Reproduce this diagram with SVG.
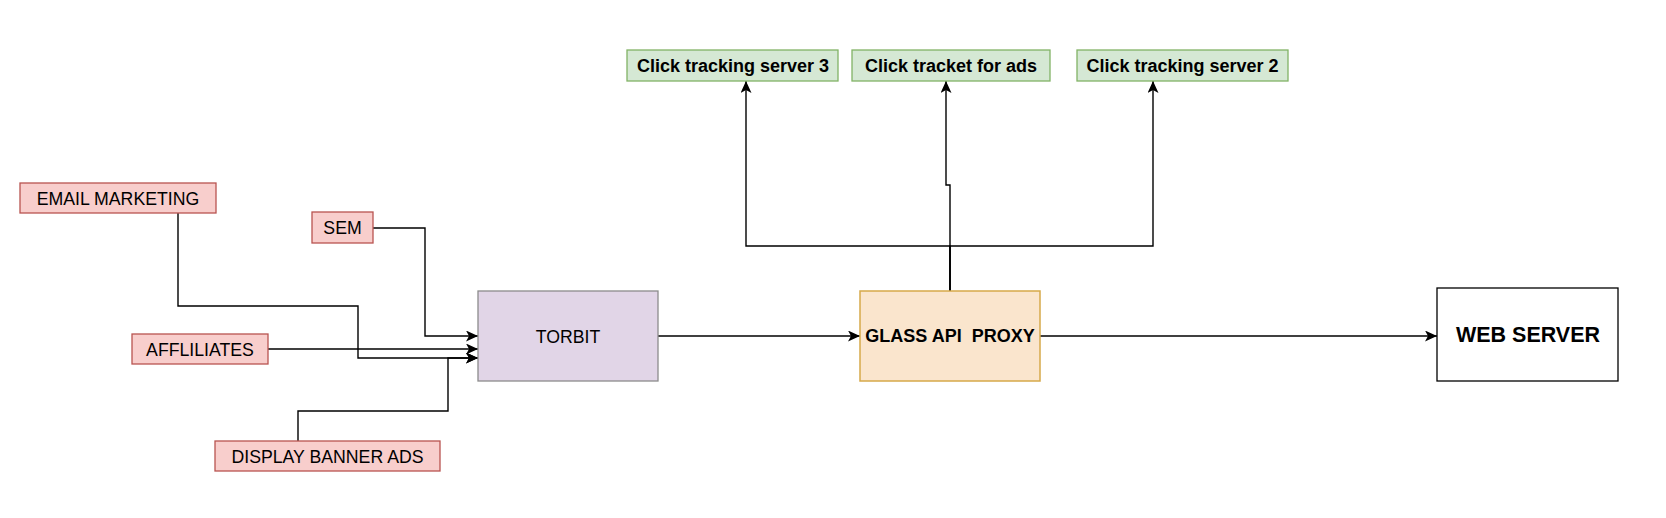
<svg xmlns="http://www.w3.org/2000/svg" width="1666" height="518" viewBox="0 0 1666 518">
<defs>
<marker id="arr" markerUnits="userSpaceOnUse" markerWidth="14" markerHeight="12" refX="12" refY="5.5" orient="auto">
<path d="M0,0 L12,5.5 L0,11 L3,5.5 Z" fill="#000"/>
</marker>
<style>
.red{fill:#f8cecc;stroke:#b85450;stroke-width:1.3}
.green{fill:#d5e8d4;stroke:#82b366;stroke-width:1.3}
.purple{fill:#e1d5e7;stroke:#8c8c8c;stroke-width:1.3}
.orange{fill:#fae5cd;stroke:#d6a94a;stroke-width:1.5}
.white{fill:#fff;stroke:#000;stroke-width:1.3}
.t{font-family:"Liberation Sans",Arial,sans-serif;font-size:17.7px;fill:#000;text-anchor:middle}
.b{font-family:"Liberation Sans",Arial,sans-serif;font-size:18px;font-weight:bold;fill:#000;text-anchor:middle}
.bb{font-family:"Liberation Sans",Arial,sans-serif;font-size:21.5px;font-weight:bold;fill:#000;text-anchor:middle}
.c{fill:none;stroke:#000;stroke-width:1.4;marker-end:url(#arr)}
</style>
</defs>
<rect width="1666" height="518" fill="#fff"/>
<g id="connectors">
<path class="c" d="M178,213 V306 H358 V358 H478"/>
<path class="c" d="M373,228 H425 V336 H478"/>
<path class="c" d="M268,349 H478"/>
<path class="c" d="M298,441 V411 H448 V358 H478"/>
<path class="c" d="M658,336 H860"/>
<path class="c" d="M1040,336 H1437"/>
<path class="c" d="M950,291 V246 H746 V81"/>
<path class="c" d="M950,291 V185 H946 V81"/>
<path class="c" d="M950,291 V246 H1153 V81"/>
</g>
<g id="email"><rect class="red" x="20" y="183" width="196" height="30"/><text class="t" x="118" y="204.5">EMAIL MARKETING</text></g>
<g id="sem"><rect class="red" x="312" y="212" width="61" height="31"/><text class="t" x="342.5" y="234">SEM</text></g>
<g id="affiliates"><rect class="red" x="132" y="334" width="136" height="30"/><text class="t" x="200" y="355.5">AFFLILIATES</text></g>
<g id="display"><rect class="red" x="215" y="441" width="225" height="30"/><text class="t" x="327.5" y="462.5">DISPLAY BANNER ADS</text></g>
<g id="torbit"><rect class="purple" x="478" y="291" width="180" height="90"/><text class="t" x="568" y="342.5">TORBIT</text></g>
<g id="glass"><rect class="orange" x="860" y="291" width="180" height="90"/><text class="b" x="950" y="342.3" xml:space="preserve">GLASS API  PROXY</text></g>
<g id="webserver"><rect class="white" x="1437" y="288" width="181" height="93"/><text class="bb" x="1528" y="342">WEB SERVER</text></g>
<g id="cts3"><rect class="green" x="627" y="50" width="211" height="31"/><text class="b" x="733" y="72.3">Click tracking server 3</text></g>
<g id="ctads"><rect class="green" x="852" y="50" width="198" height="31"/><text class="b" x="951" y="72.3">Click tracket for ads</text></g>
<g id="cts2"><rect class="green" x="1077" y="50" width="211" height="31"/><text class="b" x="1182.5" y="72.3">Click tracking server 2</text></g>
</svg>
